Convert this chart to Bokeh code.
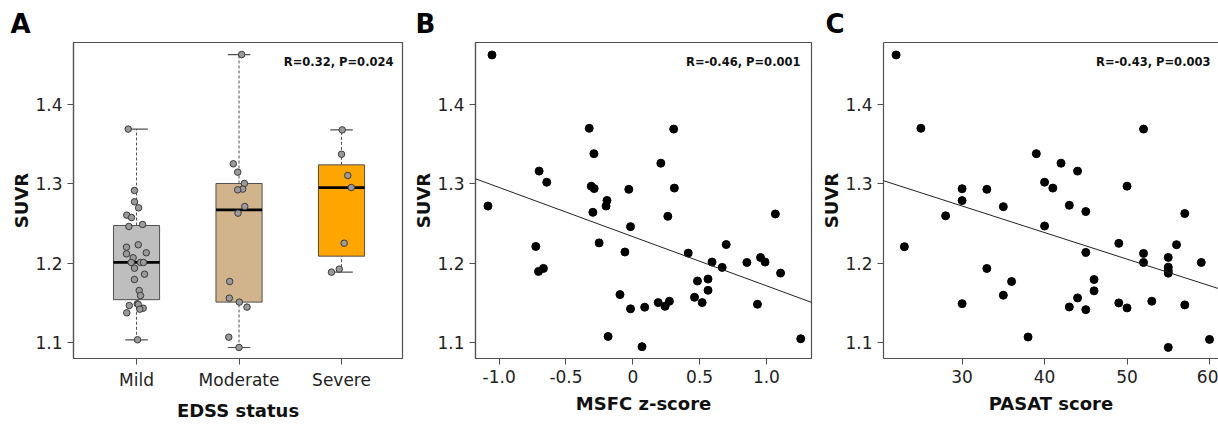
import numpy as np
from bokeh.plotting import figure
from bokeh.layouts import row
from bokeh.models import Range1d, FixedTicker, Label, LinearAxis, Slope
from bokeh.embed import file_html
from bokeh.resources import INLINE

# ---------------- data ----------------
categories = ["Mild", "Moderate", "Severe"]
box_colors = ["#BEBEBE", "#D2B48C", "#FFA500"]

mild_suvr = [1.369, 1.2916, 1.2773, 1.2697, 1.2605, 1.2575, 1.2487, 1.2462, 1.2231, 1.2201,
             1.2130, 1.2117, 1.2067, 1.2008, 1.2008, 1.2008, 1.1936, 1.1860, 1.1793, 1.1654,
             1.1591, 1.1487, 1.1478, 1.1465, 1.1431, 1.1419, 1.1373, 1.1033]
mild_jitter = [-0.081, -0.02, -0.02, 0.02, -0.095, -0.049, 0.059, -0.075, 0.017, -0.098,
               0.095, -0.098, -0.033, -0.052, 0.039, 0.068, -0.02, 0.078, -0.02, 0.026,
               0.039, 0.007, 0.017, -0.071, 0.065, 0.032, -0.095, 0.01]
moderate_suvr = [1.463, 1.3252, 1.3147, 1.3004, 1.2933, 1.2924, 1.2714, 1.263, 1.1768, 1.1558,
                 1.1508, 1.1445, 1.1066, 1.0936]
moderate_jitter = [0.026, -0.056, -0.013, 0.052, 0.036, -0.013, 0.056, -0.01, -0.091, -0.095,
                   0.003, 0.078, -0.1, 0.0]
severe_suvr = [1.368, 1.3373, 1.3105, 1.2953, 1.2251, 1.1924, 1.1886]
severe_jitter = [0.007, 0.0, 0.061, 0.095, 0.026, -0.022, -0.098]

msfc_z = [-1.054, -0.326, 0.306, -0.291, 0.210, -0.701, -0.644, -0.311, -0.289, -0.030,
          0.311, -0.193, -0.200, -1.084, -0.299, 0.262, 1.067, -0.017, -0.726, -0.252,
          -0.059, 0.415, 0.699, -0.706, -0.669, 0.593, 0.669, 0.854, 0.956, 0.990,
          1.106, 0.484, 0.563, 0.563, -0.096, 0.462, 0.519, 0.933, -0.017, 0.089,
          0.190, 0.242, 0.274, -0.185, 0.069, 1.257]
msfc_suvr = [1.4625, 1.370, 1.369, 1.338, 1.326, 1.316, 1.302, 1.297, 1.294, 1.293,
             1.2946, 1.279, 1.272, 1.272, 1.264, 1.259, 1.262, 1.246, 1.221, 1.2255,
             1.214, 1.2126, 1.2234, 1.1895, 1.1933, 1.2013, 1.1946, 1.2008, 1.2071, 1.2013,
             1.1874, 1.1774, 1.1799, 1.1657, 1.1603, 1.1569, 1.1502, 1.1481, 1.1423, 1.1444,
             1.1502, 1.1456, 1.1519, 1.1075, 1.0946, 1.1046]

pasat = [22, 25, 52, 39, 42, 44, 40, 41, 50, 30,
         33, 30, 43, 35, 45, 28, 57, 23, 40, 49,
         56, 52, 45, 55, 52, 59, 33, 55, 55, 55,
         36, 46, 46, 35, 44, 30, 43, 45, 49, 50,
         53, 57, 38, 55, 60]
pasat_suvr = [1.4625, 1.370, 1.369, 1.338, 1.326, 1.316, 1.302, 1.2946, 1.297, 1.2938,
              1.293, 1.2788, 1.2729, 1.2712, 1.265, 1.2596, 1.2625, 1.2207, 1.2468, 1.2249,
              1.2232, 1.2122, 1.2135, 1.2072, 1.2008, 1.2008, 1.1932, 1.1949, 1.1907, 1.1873,
              1.1768, 1.1793, 1.165, 1.1595, 1.1561, 1.1489, 1.1447, 1.1413, 1.1498, 1.1435,
              1.1519, 1.1473, 1.1068, 1.0937, 1.1038]

y_ticks = [1.1, 1.2, 1.3, 1.4]
y_tick_labels = ["1.1", "1.2", "1.3", "1.4"]
edss_ticks = [1, 2, 3]
msfc_ticks = [-1.0, -0.5, 0.0, 0.5, 1.0]
msfc_tick_labels = ["-1.0", "-0.5", "0", "0.5", "1.0"]
pasat_ticks = [30, 40, 50, 60]
pasat_tick_labels = ["30", "40", "50", "60"]
stat_texts = ["R=0.32, P=0.024", "R=-0.46, P=0.001", "R=-0.43, P=0.003"]
panel_letters = ["A", "B", "C"]
x_titles = ["EDSS status", "MSFC z-score", "PASAT score"]
y_title = "SUVR"

# ---------------- style ----------------
FONT = "DejaVu Sans"
FRAME = "#505050"
H = 426
TOP, BOTTOM = 42, 68
FRAME_H = H - TOP - BOTTOM
Y0, Y1 = 1.0797, 1.4782


def make_fig(width, left, right, x_range, xticks, xlabels, title, letter, letter_dx,
             outline=True):
    p = figure(width=width, height=H, x_range=x_range, y_range=Range1d(Y0, Y1),
               output_backend="svg", toolbar_location=None,
               min_border_left=left, min_border_right=right,
               min_border_top=TOP, min_border_bottom=BOTTOM)
    p.grid.visible = False
    p.background_fill_color = "white"
    p.border_fill_color = "white"
    p.outline_line_color = FRAME if outline else None
    p.outline_line_width = 1.2
    # panel letter as the figure title, pulled out to the left of the frame
    p.title.text = letter
    p.title.align = "left"
    p.title.offset = letter_dx
    p.title.standoff = 8
    p.title.text_font = FONT
    p.title.text_font_style = "bold"
    p.title.text_font_size = "26px"
    p.title.text_color = "#000000"
    p.xaxis.ticker = FixedTicker(ticks=xticks)
    p.xaxis.major_label_overrides = {t: l for t, l in zip(xticks, xlabels)}
    p.yaxis.ticker = FixedTicker(ticks=y_ticks)
    p.yaxis.major_label_overrides = {t: l for t, l in zip(y_ticks, y_tick_labels)}
    p.xaxis.axis_label = title
    p.yaxis.axis_label = y_title
    for ax in (p.xaxis[0], p.yaxis[0]):
        ax.axis_line_color = FRAME
        ax.axis_line_width = 1.2
        ax.major_tick_line_color = FRAME
        ax.major_tick_out = 6
        ax.major_tick_in = 0
        ax.minor_tick_line_color = None
        ax.major_label_text_font = FONT
        ax.major_label_text_font_size = "17px"
        ax.major_label_text_color = "#222222"
        ax.axis_label_text_font = FONT
        ax.axis_label_text_font_style = "bold"
        ax.axis_label_text_font_size = "18px"
        ax.axis_label_text_color = "#111111"
    p.xaxis.major_label_standoff = 5
    p.xaxis.axis_label_standoff = 7
    p.yaxis.major_label_standoff = 5
    p.yaxis.axis_label_standoff = 0
    return p


def add_stat(p, stat, stat_dx, frame_w):
    p.add_layout(Label(x=frame_w - stat_dx, y=FRAME_H - 19, x_units="screen", y_units="screen",
                       text=stat, text_font=FONT, text_font_style="bold",
                       text_font_size="11.5px", text_color="#111111",
                       text_align="right", text_baseline="middle"))


def fivenum(vals):
    x = np.sort(np.asarray(vals, dtype=float))
    n = len(x)
    n4 = np.floor((n + 3) / 2) / 2
    d = np.array([1, n4, (n + 1) / 2, n + 1 - n4, n]) - 1
    return 0.5 * (x[np.floor(d).astype(int)] + x[np.ceil(d).astype(int)])


# ---------------- panel A ----------------
wA, lA, rA = 410, 73, 8
fwA = wA - lA - rA
pA = make_fig(wA, lA, rA, Range1d(0.385, 3.595), edss_ticks, categories, x_titles[0],
              panel_letters[0], -63)

groups = [mild_suvr, moderate_suvr, severe_suvr]
jitters = [mild_jitter, moderate_jitter, severe_jitter]
stats = np.array([fivenum(g) for g in groups])
pos = np.array(edss_ticks, dtype=float)
bw, cw = 0.45, 0.22

pA.segment(x0=pos, x1=pos, y0=stats[:, 3], y1=stats[:, 4], line_color=FRAME,
           line_dash="3 2", line_width=1)
pA.segment(x0=pos, x1=pos, y0=stats[:, 0], y1=stats[:, 1], line_color=FRAME,
           line_dash="3 2", line_width=1)
pA.segment(x0=pos - cw / 2, x1=pos + cw / 2, y0=stats[:, 4], y1=stats[:, 4],
           line_color=FRAME, line_width=1.2)
pA.segment(x0=pos - cw / 2, x1=pos + cw / 2, y0=stats[:, 0], y1=stats[:, 0],
           line_color=FRAME, line_width=1.2)
pA.quad(left=pos - bw / 2, right=pos + bw / 2, bottom=stats[:, 1], top=stats[:, 3],
        fill_color=box_colors, line_color=FRAME, line_width=1)
pA.segment(x0=pos - bw / 2, x1=pos + bw / 2, y0=stats[:, 2], y1=stats[:, 2],
           line_color="#000000", line_width=2.8)
for i, (g, j) in enumerate(zip(groups, jitters)):
    pA.scatter(x=pos[i] + np.array(j), y=g, size=6.5, marker="circle",
               fill_color="#9A9A9A", line_color="#3A3A3A", line_width=1)
add_stat(pA, stat_texts[0], 9, fwA)

# ---------------- panel B ----------------
wB, lB, rB = 408, 62, 7
fwB = wB - lB - rB
pB = make_fig(wB, lB, rB, Range1d(-1.1773, 1.3375), msfc_ticks, msfc_tick_labels, x_titles[1],
              panel_letters[1], -60)
mB, bB = np.polyfit(msfc_z, msfc_suvr, 1)
pB.add_layout(Slope(gradient=mB, y_intercept=bB, line_color="#222222", line_width=1))
pB.scatter(x=msfc_z, y=msfc_suvr, size=8, marker="circle", fill_color="#000000",
           line_color="#000000")
add_stat(pB, stat_texts[1], 14, fwB)

# ---------------- panel C ----------------
wC, lC, rC = 400, 62, 0
fwC = wC - lC - rC
pC = make_fig(wC, lC, rC, Range1d(20.47, 61.09), pasat_ticks, pasat_tick_labels, x_titles[2],
              panel_letters[2], -58, outline=False)
pC.add_layout(LinearAxis(ticker=FixedTicker(ticks=[]), axis_line_color=FRAME,
                         axis_line_width=1.2, major_tick_line_color=None,
                         minor_tick_line_color=None), "above")
mC, bC = np.polyfit(pasat, pasat_suvr, 1)
pC.add_layout(Slope(gradient=mC, y_intercept=bC, line_color="#222222", line_width=1))
pC.scatter(x=pasat, y=pasat_suvr, size=8, marker="circle", fill_color="#000000",
           line_color="#000000")
add_stat(pC, stat_texts[2], 11, fwC)

layout = row(pA, pB, pC, spacing=0)
open("out.html", "w").write(file_html(layout, INLINE))
